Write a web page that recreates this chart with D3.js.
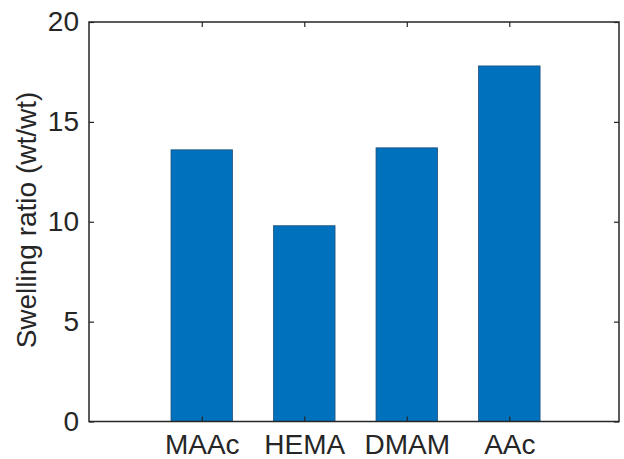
<!DOCTYPE html>
<html>
<head>
<meta charset="utf-8">
<script src="https://cdn.jsdelivr.net/npm/d3@7"></script>
<style>
  body { margin: 0; background: #fff; }
  text { font-family: "Liberation Sans", Arial, sans-serif; fill: #262626; }
</style>
</head>
<body>
<div id="chart-area"></div>
<script>
// data
var categories = ["MAAc", "HEMA", "DMAM", "AAc"];
var values = [13.6, 9.8, 13.7, 17.8];
var yTicks = [0, 5, 10, 15, 20];

var width = 624, height = 459;
var plotLeft = 89, plotRight = 619, plotTop = 22, plotBottom = 421.5;

var svg = d3.select("#chart-area").append("svg")
	.attr("width", width)
	.attr("height", height);

// x positions are the category index (1..4), like MATLAB bar()
var x = d3.scaleLinear()
	.domain([-0.1, 5.07])
	.range([plotLeft, plotRight]);

var y = d3.scaleLinear()
	.domain([0, 20])
	.range([plotBottom, plotTop]);

var barW = 0.6;

// bars
svg.selectAll("rect.bar")
	.data(values)
	.enter().append("rect")
	.attr("class", "bar")
	.attr("x", function(d, i) { return x(i + 1 - barW / 2); })
	.attr("y", function(d) { return y(d); })
	.attr("width", x(barW) - x(0))
	.attr("height", function(d) { return y(0) - y(d); })
	.attr("fill", "#0072BD")
	.attr("stroke", "#1f4f7a")
	.attr("stroke-width", 0.8);

// left axis
var yAxis = d3.axisLeft(y)
	.tickValues(yTicks)
	.tickSizeInner(-5)
	.tickSizeOuter(0)
	.tickPadding(10);

svg.append("g")
	.attr("transform", "translate(" + plotLeft + ",0)")
	.call(yAxis);

// bottom axis
var xAxis = d3.axisBottom(x)
	.tickValues([1, 2, 3, 4])
	.tickFormat(function(d) { return categories[d - 1]; })
	.tickSizeInner(-5)
	.tickSizeOuter(0)
	.tickPadding(13);

svg.append("g")
	.attr("transform", "translate(0," + plotBottom + ")")
	.call(xAxis);

// top and right ticks (box on)
svg.append("g")
	.attr("transform", "translate(0," + plotTop + ")")
	.call(d3.axisTop(x).tickValues([1, 2, 3, 4]).tickSizeInner(-5).tickSizeOuter(0).tickFormat(""));

svg.append("g")
	.attr("transform", "translate(" + plotRight + ",0)")
	.call(d3.axisRight(y).tickValues(yTicks).tickSizeInner(-5).tickSizeOuter(0).tickFormat(""));

svg.selectAll(".domain").remove();
svg.selectAll(".tick line")
	.attr("stroke", "#262626")
	.attr("stroke-width", 1.2);
svg.selectAll(".tick text")
	.style("font-size", "28px")
	.attr("fill", "#262626");

// box
svg.append("rect")
	.attr("x", plotLeft)
	.attr("y", plotTop)
	.attr("width", plotRight - plotLeft)
	.attr("height", plotBottom - plotTop)
	.attr("fill", "none")
	.attr("stroke", "#262626")
	.attr("stroke-width", 1.5);

// y title
svg.append("text")
	.attr("transform", "translate(36,220) rotate(-90)")
	.attr("text-anchor", "middle")
	.style("font-size", "28px")
	.text("Swelling ratio (wt/wt)");
</script>
</body>
</html>
